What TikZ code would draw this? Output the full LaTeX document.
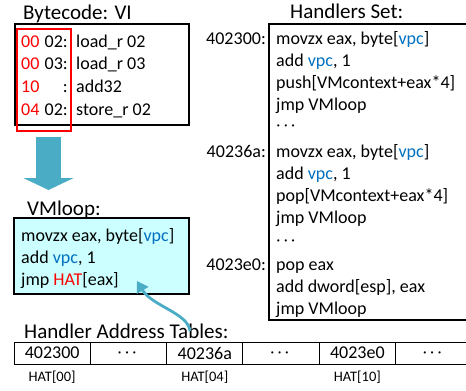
\documentclass[tikz,border=0pt]{standalone}
\usepackage{fontspec}
\setmainfont{Carlito}
\usetikzlibrary{arrows.meta}

\definecolor{vmcyan}{RGB}{204,255,255}
\definecolor{arrowblue}{RGB}{75,172,198}
\definecolor{vpcblue}{RGB}{0,112,192}

\newcommand{\vpc}{\textcolor{vpcblue}{vpc}}
\newcommand{\bodyfont}{\fontsize{18}{22}\selectfont}
\newcommand{\headfont}{\fontsize{21}{25}\selectfont}
\newcommand{\middots}{{\fontsize{14}{16}\selectfont$\boldsymbol{\cdots}$}}

\tikzset{
  headtext/.style={anchor=base west, inner sep=0pt, font=\headfont},
  codeline/.style={anchor=base west, inner sep=0pt, font=\bodyfont},
  addrtext/.style={anchor=base east, inner sep=0pt, font=\bodyfont},
  codebox/.style={draw, line width=1.2pt, inner sep=0pt},
  hatcell/.style={draw, line width=1pt, minimum width=76.3pt, minimum height=22pt, inner sep=0pt, font=\bodyfont},
  hatlabel/.style={anchor=base, inner sep=0pt, font=\fontsize{14.5}{17}\selectfont},
  bluearrow/.style={arrowblue, line width=2.8pt, -{Triangle[width=13pt, length=11pt]}}
}

\usepackage{amsmath}

\begin{document}
\begin{tikzpicture}[x=1pt, y=-1pt]
  \useasboundingbox (0,0) rectangle (466,391);

  % bytecode
  \node[headtext] (bctitle) at (23,19) {Bytecode: VI};
  \node[codebox, minimum width=174pt, minimum height=101pt] (bcbox) at (102,74.5) {};
  \foreach \y/\op/\arg/\ins [count=\i] in {47/00/02:/load\_r 02, 69/00/03:/load\_r 03, 92/10/:/add32, 115/04/02:/store\_r 02} {
    \node[codeline, text=red] (op\i) at (21,\y) {\op};
    \node[addrtext] (arg\i) at (68,\y) {\arg};
    \node[codeline] (ins\i) at (76,\y) {\ins};
  }
  \node[draw=red, line width=1.8pt, minimum width=54pt, minimum height=102pt, inner sep=0pt] (opbox) at (44,80) {};

  \coordinate (bigtop) at (48.5,137);
  \coordinate (bigtip) at (48.5,190);
  \draw[arrowblue, line width=25pt, -{Triangle[width=50pt, length=12pt]}] (bigtop) -- (bigtip);

  % VMloop
  \node[headtext] (vmtitle) at (27,215) {VMloop:};
  \node[codebox, fill=vmcyan, minimum width=175pt, minimum height=76pt] (vmbox) at (101.5,256) {};
  \node[codeline] (vm1) at (21,241) {movzx eax, byte[\vpc]};
  \node[codeline] (vm2) at (21,263) {add \vpc, 1};
  \node[codeline] (vm3) at (21,285) {jmp \textcolor{red}{HAT}[eax]};

  % handlers
  \node[headtext] (hstitle) at (290,18) {Handlers Set:};
  \node[codebox, minimum width=203pt, minimum height=296pt] (hsbox) at (370.5,172) {};
  \foreach \y/\addr [count=\i] in {44/402300:, 157/40236a:, 270/4023e0:}
    \node[addrtext] (addr\i) at (266,\y) {\addr};
  \foreach \y/\ins [count=\i] in {44/{movzx eax, byte[\vpc]}, 66/{add \vpc, 1}, 88/push[VMcontext+eax*4], 110/jmp VMloop,
                                   157/{movzx eax, byte[\vpc]}, 179/{add \vpc, 1}, 201/pop[VMcontext+eax*4], 223/jmp VMloop,
                                   270/pop eax, 292/{add dword[esp], eax}, 314/jmp VMloop}
    \node[codeline] (hs\i) at (276,\y) {\ins};
  \node[anchor=west, inner sep=0pt] (dots1) at (276,126) {\middots};
  \node[anchor=west, inner sep=0pt] (dots2) at (276,241) {\middots};

  % address table
  \node[headtext] (hattitle) at (24,338) {Handler Address Tables:};
  \foreach \val [count=\i from 0] in {402300, \middots, 40236a, \middots, 4023e0, \middots}
    \node[hatcell] (hat\i) at (52.15+76.3*\i,353) {\val};
  \foreach \i/\lab in {0/00, 2/04, 4/10}
    \node[hatlabel] (lab\i) at (hat\i.south |- 0,381) {HAT[\lab]};

  \coordinate (hatfoot) at (190,331);
  \coordinate (hattip) at (137,281);
  \draw[bluearrow] (hatfoot) .. controls (188,313) and (152,306) .. (hattip);
\end{tikzpicture}
\end{document}
